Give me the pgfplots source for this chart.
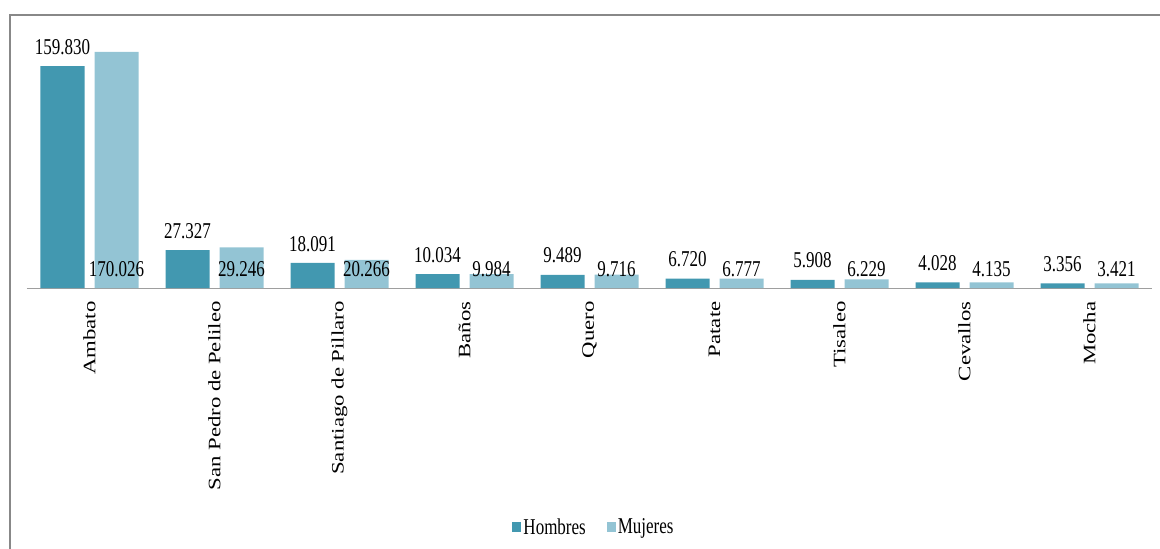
\documentclass[border=0pt]{standalone}
\usepackage{fontspec}
\setmainfont{Liberation Serif}
\usepackage{pgfplots}
\pgfplotsset{compat=1.18}
\definecolor{hom}{RGB}{66,152,176}
\definecolor{muj}{RGB}{147,196,212}
\definecolor{frame}{RGB}{136,136,136}
\newcommand{\vs}[1]{\scalebox{1}[1.33]{#1}}
\newcommand{\hs}[1]{\scalebox{1.3}[1]{#1}}
\begin{document}
\begin{tikzpicture}
\begin{axis}[
  at={(0,0)}, anchor=south west, scale only axis,
  width=1125pt, height=250pt,
  xmin=-0.5, xmax=8.5, ymin=0, ymax=180,
  ybar=10pt, bar width=44pt,
  axis x line=bottom, axis y line=none,
  x axis line style={draw=black!38, line width=1pt, -},
  xtick={0,...,8},
  xticklabels={\hs{Ambato},\hs{San Pedro de Pelileo},\hs{Santiago de Pillaro},\hs{Baños},\hs{Quero},\hs{Patate},\hs{Tisaleo},\hs{Cevallos},\hs{Mocha}},
  major tick length=0pt,
  x tick label style={rotate=90, anchor=east, font=\fontsize{17.5}{21}\selectfont, xshift=-10pt},
  clip=false,
  nodes near coords={\vs{\pgfmathprintnumber[fixed, fixed zerofill, precision=3, assume math mode=true]{\pgfplotspointmeta}}},
  every node near coord/.append style={font=\fontsize{17}{20}\selectfont, anchor=south, yshift=8pt, text=black},
  legend style={at={(0.504,-0.956)}, anchor=center, legend columns=2, draw=none, fill=none,
    font=\fontsize{17}{20}\selectfont,
    /tikz/every even column/.append style={column sep=19pt}},
  legend image code/.code={\fill[#1,draw=none] (0pt,-5pt) rectangle (9pt,5pt);},
]
\addplot[fill=hom, draw=none] coordinates {
  (0,159.830) (1,27.327) (2,18.091) (3,10.034) (4,9.489) (5,6.720) (6,5.908) (7,4.028) (8,3.356)};
\addlegendentry{\vs{Hombres}}
\addplot[fill=muj, draw=none, visualization depends on={y \as \rawy},
  every node near coord/.append style={shift={(axis direction cs:0,-\rawy)}}] coordinates {
  (0,170.026) (1,29.246) (2,20.266) (3,9.984) (4,9.716) (5,6.777) (6,6.229) (7,4.135) (8,3.421)};
\addlegendentry{\vs{Mujeres}}
\end{axis}
\draw[frame, line width=1.5pt] (-17pt,-270pt) -- (-17pt,273pt) -- (1140pt,273pt);
\pgfresetboundingbox
\useasboundingbox (-27pt,-261pt) rectangle (1133pt,288pt);
\end{tikzpicture}
\end{document}
